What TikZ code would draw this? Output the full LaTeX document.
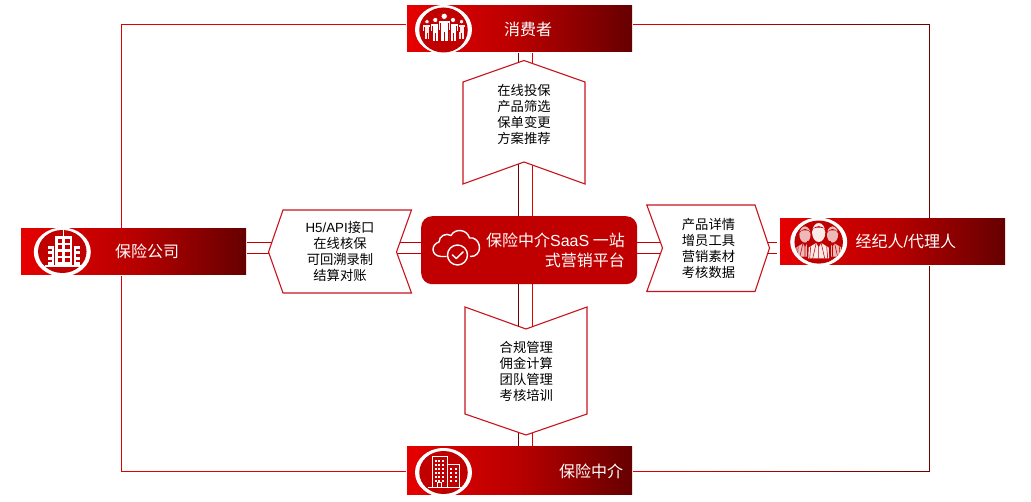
\documentclass[tikz,border=0pt]{standalone}
\usepackage{fontspec}
\setmainfont{Noto Sans CJK SC}
\newfontfamily\latinf{Liberation Sans}
\usetikzlibrary{calc,shapes.geometric}
\definecolor{rb}{HTML}{E00000}
\definecolor{rl}{HTML}{C00000}
\definecolor{rd}{HTML}{6E0000}
\definecolor{barL}{HTML}{E60000}
\definecolor{barM}{HTML}{B80000}
\definecolor{barR}{HTML}{660000}
\definecolor{disc}{HTML}{C00000}
\definecolor{edge}{HTML}{C8141E}
\tikzset{
  conn/.style={draw=rl,line width=0.9pt},
  connb/.style={draw=rb,line width=0.9pt},
  connd/.style={draw=rd,line width=0.9pt},
  bar/.style={left color=barL,right color=barR,middle color=barM,draw=none,minimum width=225pt,minimum height=46pt,inner sep=0pt,anchor=north west,outer sep=0pt},
  ringn/.style={ellipse,fill=white,draw=none,minimum width=57pt,minimum height=49pt,inner sep=0pt},
  discn/.style={ellipse,fill=disc,draw=none,minimum width=48.5pt,minimum height=43pt,inner sep=0pt},
  shapeline/.style={draw=edge,line width=1.1pt,fill=white},
  lab/.style={text=white,font=\fontsize{16}{18}\selectfont,inner sep=0pt},
  tx/.style={align=center,font=\fontsize{13.3}{16}\selectfont,inner sep=0pt,text=black}
}
\newcommand{\person}[4]{% x, y(head centre), scale, colour
  \path[fill=#4,draw=disc,line width=.7pt] (#1,#2) circle ({3.2*#3});
  \path[fill=#4,draw=disc,line width=.7pt] ({#1-6*#3},{#2+3.8*#3}) -- ({#1+6*#3},{#2+3.8*#3}) -- ({#1+6*#3},{#2+14*#3}) -- ({#1+3.8*#3},{#2+14*#3}) -- ({#1+3.8*#3},{#2+25.5*#3}) -- ({#1-3.8*#3},{#2+25.5*#3}) -- ({#1-3.8*#3},{#2+14*#3}) -- ({#1-6*#3},{#2+14*#3}) -- cycle;
  \fill[disc] ({#1-0.4*#3},{#2+15.5*#3}) rectangle ({#1+0.4*#3},{#2+26*#3});
  \fill[disc] ({#1-4.1*#3},{#2+7*#3}) rectangle ({#1-3.5*#3},{#2+14.5*#3});
  \fill[disc] ({#1+3.5*#3},{#2+7*#3}) rectangle ({#1+4.1*#3},{#2+14.5*#3});
}
\newcommand{\agent}[4]{% x, y(head centre), scale, opacity
  \fill[white,opacity=#4] (#1,#2) ellipse ({6.6*#3} and {9.5*#3});
  \fill[disc] ({#1-6.4*#3},{#2-1.5*#3}) .. controls ({#1-5*#3},{#2-8*#3}) and ({#1+5*#3},{#2-8*#3}) .. ({#1+6.4*#3},{#2-1.5*#3}) -- ({#1+6.4*#3},{#2-3.5*#3}) .. controls ({#1+4*#3},{#2-5.5*#3}) and ({#1-4*#3},{#2-5.5*#3}) .. ({#1-6.4*#3},{#2-3.5*#3}) -- cycle;
  \fill[white,opacity=#4] ({#1-10.5*#3},{#2+26*#3}) -- ({#1-10*#3},{#2+15*#3}) -- ({#1-2.5*#3},{#2+10.5*#3}) -- (#1,{#2+15*#3}) -- ({#1+2.5*#3},{#2+10.5*#3}) -- ({#1+10*#3},{#2+15*#3}) -- ({#1+10.5*#3},{#2+26*#3}) -- cycle;
  \draw[disc,line width=.55pt] ({#1-2.5*#3},{#2+10.5*#3}) -- ({#1-6*#3},{#2+26*#3}) ({#1+2.5*#3},{#2+10.5*#3}) -- ({#1+6*#3},{#2+26*#3}) (#1,{#2+14*#3}) -- (#1,{#2+26*#3}) ({#1-8*#3},{#2+14*#3}) -- ({#1-9*#3},{#2+26*#3}) ({#1+8*#3},{#2+14*#3}) -- ({#1+9*#3},{#2+26*#3});
}
\begin{document}
\begin{tikzpicture}[x=1pt,y=-1pt]
\useasboundingbox (0,0) rectangle (1031,502);
\fill[white] (0,0) rectangle (1031,502);
% frame
\coordinate (tl) at (121.5,24.5);
\coordinate (tg) at (633,24.5);
\coordinate (tr) at (929.5,24.5);
\coordinate (br) at (929.5,471.5);
\coordinate (bl) at (121.5,471.5);
\coordinate (bg) at (633,471.5);
\draw[connb] (bl) -- (tl) -- (tg);
\draw[connb] (bl) -- (bg);
\foreach \i in {0,...,29}{
  \pgfmathsetmacro{\pc}{100-100*(\i+0.5)/30}
  \pgfmathsetmacro{\xa}{633+\i*9.9}
  \pgfmathsetmacro{\xb}{633+(\i+1)*9.9+0.2}
  \draw[draw=rb!\pc!rd,line width=0.9pt] (\xa,24.5) -- (\xb,24.5);
  \draw[draw=rb!\pc!rd,line width=0.9pt] (\xa,471.5) -- (\xb,471.5);
}
\draw[connd,line cap=rect] (tr) -- (br);
% cross lines
\coordinate (vdt) at (518.5,53);
\coordinate (vdb) at (518.5,446);
\coordinate (vrt) at (532.5,53);
\coordinate (vrb) at (532.5,446);
\coordinate (hut) at (247,242.5);
\coordinate (hub) at (777,242.5);
\coordinate (hlt) at (247,253.2);
\coordinate (hlb) at (777,253.2);
\draw[connd] (vdt) -- (vdb);
\draw[connb] (vrt) -- (vrb);
\draw[conn] (hut) -- (hub);
\draw[conn] (hlt) -- (hlb);
% white gaps round bars
\fill[white] (406,0) rectangle (632.7,53);
\fill[white] (406,446) rectangle (632.7,497);
\fill[white] (100,227.7) rectangle (247,276);
\fill[white] (777,217.7) rectangle (1009,266);
\node[bar] (btop) at (407,6) {};
\node[bar] (bleft) at (21,229) {};
\node[bar] (bright) at (780,219) {};
\node[bar,minimum height=47pt] (bbot) at (407,447) {};
% arrow boxes
\draw[shapeline] (463,82) -- (524,60.5) -- (585,82) -- (585,184) -- (524,162) -- (463,184) -- cycle;
\draw[shapeline] (465,307) -- (526,329) -- (587,307) -- (587,414) -- (526,435) -- (465,414) -- cycle;
\draw[shapeline] (283,210) -- (411.5,210) -- (396.5,252) -- (411.5,293) -- (283,293) -- (268.5,252) -- cycle;
\draw[shapeline] (646.8,205) -- (755,205) -- (769.5,248) -- (755,291.5) -- (646.8,291.5) -- (662.5,248) -- cycle;
\node[tx] (ttop) at (524,114.3) {在线投保\\产品筛选\\保单变更\\方案推荐};
\node[tx] (tbot) at (526.3,371.7) {合规管理\\佣金计算\\团队管理\\考核培训};
\node[tx] (tleft) at (340,251) {{\latinf H5/API}接口\\在线核保\\可回溯录制\\结算对账};
\node[tx] (tright) at (708.5,248.5) {产品详情\\增员工具\\营销素材\\考核数据};
% centre
\node[fill=rl,rounded corners=11pt,minimum width=216pt,minimum height=68pt,inner sep=0pt,anchor=north west] (centre) at (421,216) {};
\node[text=white,align=right,anchor=east,inner sep=0pt,font=\fontsize{16}{20}\selectfont] (ctext) at (625,250) {保险中介{\latinf SaaS} 一站\\式营销平台};
% cloud icon
\draw[white,line width=1.4pt,line join=round] (446.5,256.5) -- (441,256.5) .. controls (431,256) and (430.5,244.5) .. (439,242) .. controls (439,236) and (446,232.5) .. (451,235.5) .. controls (455,228) and (467,229) .. (469.5,238) .. controls (479,236) and (484,252) .. (474,256) -- (470,256.5);
\node[circle,draw=white,line width=1.4pt,minimum size=20pt,inner sep=0pt] (cloudc) at (457.5,255) {};
\draw[white,line width=1.5pt,line cap=round,line join=round] (452.5,255) -- (456.3,258.5) -- (463,252);
% discs
\node[ringn] (rtop) at (443.5,29.5) {};
\node[ringn] (rleft) at (62.3,252) {};
\node[ringn] (rright) at (818.7,242) {};
\node[ringn] (rbot) at (443.5,472.5) {};
\node[discn,minimum height=45pt] (dtop) at (443.5,30) {};
\node[discn] (dleft) at (62.3,251.5) {};
\node[discn] (dright) at (818.7,242) {};
\node[discn] (dbot) at (443.5,472.5) {};
% people icon
\person{427}{21.7}{0.7}{white!92!red}
\person{461.5}{21.7}{0.7}{white!92!red}
\person{435.3}{20}{0.82}{white}
\person{453}{20}{0.82}{white}
\person{444.2}{16.3}{1}{white}
% company icon (left)
\fill[white] (55,236) rectangle (72,265);
\draw[white,line width=1pt] (63.5,230) -- (63.5,236);
\fill[white] (47.5,246) rectangle (53.5,265);
\fill[white] (73.5,246) rectangle (79.5,265);
\draw[white,line width=1.2pt] (45,266) -- (82,266);
\foreach \yy in {239,245.5,252,258.5}{
  \fill[disc] (57.5,\yy) rectangle (62.3,{\yy+3.6});
  \fill[disc] (64.7,\yy) rectangle (69.5,{\yy+3.6});
}
\foreach \yy in {249,254.5,260}{
  \fill[disc] (47.5,\yy) rectangle (51.5,{\yy+2.4});
  \fill[disc] (75.5,\yy) rectangle (79.5,{\yy+2.4});
}
% building icon (bottom)
\draw[white,line width=.9pt] (432,487) -- (432,456.5) -- (447,456.5) -- (447,487);
\draw[white,line width=.9pt] (447,464) -- (459,464) -- (459,487);
\draw[white,line width=.9pt] (428,487.5) -- (463,487.5);
\draw[white,line width=.8pt] (437,487) -- (437,482.5) -- (441.5,482.5) -- (441.5,487);
\foreach \yy in {459.5,463.5,467.5,471.5,475.5,479.5}{
  \foreach \xx in {434.8,438.3,441.8}{\fill[white] (\xx,\yy) rectangle ({\xx+1.9},{\yy+2.1});}
}
\foreach \yy in {468,472,476,480}{
  \foreach \xx in {450,454.5}{\fill[white] (\xx,\yy) rectangle ({\xx+2},{\yy+2.1});}
}
% agents icon
\begin{scope}
\clip (dright.center) ellipse (24.2 and 21.4);
\agent{805}{234.5}{0.85}{.72}
\agent{832.5}{234.5}{0.85}{.72}
\fill[disc] (818.7,232.5) ellipse (8.2 and 11.5);
\fill[disc] (807,241) rectangle (830.5,264);
\agent{818.7}{232.5}{1}{.92}
\end{scope}
% labels
\node[lab] (ltop) at (528,29) {消费者};
\node[lab] (lleft) at (147,251) {保险公司};
\node[lab,anchor=west] (lright) at (855.5,241.5) {经纪人{\latinf /}代理人};
\node[lab] (lbot) at (591,471) {保险中介};
\end{tikzpicture}
\end{document}
